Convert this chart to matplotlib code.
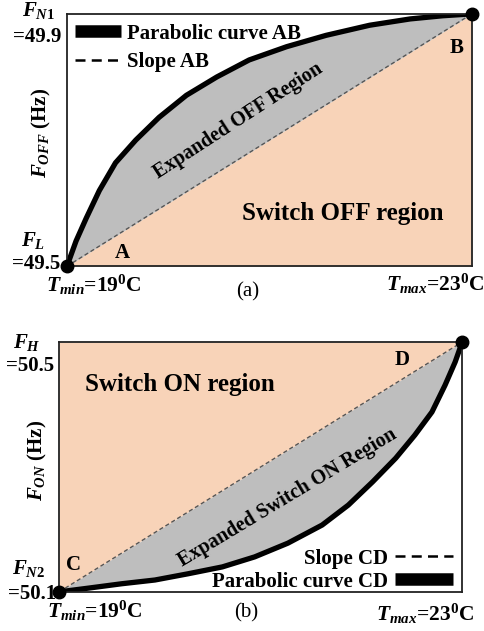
import matplotlib
matplotlib.use("Agg")
import matplotlib.pyplot as plt
from matplotlib.lines import Line2D
import numpy as np

plt.rcParams["font.family"] = "Liberation Serif"
plt.rcParams["font.weight"] = "bold"
plt.rcParams["mathtext.fontset"] = "custom"
plt.rcParams["mathtext.rm"] = "Liberation Serif:bold"
plt.rcParams["mathtext.it"] = "Liberation Serif:bold:italic"
plt.rcParams["mathtext.bf"] = "Liberation Serif:bold"

PEACH = "#F8D3B8"
GRAY = "#BEBEBE"

# (a) parabolic curve AB
T_AB = [19.0, 19.09, 19.19, 19.32, 19.48, 19.68, 19.91, 20.18, 20.48, 20.8,
        21.17, 21.56, 21.99, 22.39, 22.71, 23.0]
F_AB = [49.5, 49.54, 49.576, 49.62, 49.664, 49.70, 49.736, 49.771, 49.80, 49.827,
        49.848, 49.866, 49.882, 49.892, 49.897, 49.9]

# (b) parabolic curve CD
T_CD = [19.0, 19.29, 19.62, 19.95, 20.28, 20.62, 20.94, 21.27, 21.61, 21.87,
        22.11, 22.34, 22.53, 22.70, 22.83, 22.93, 23.0]
F_CD = [50.1, 50.106, 50.113, 50.119, 50.129, 50.14, 50.156, 50.178, 50.207, 50.239,
        50.276, 50.314, 50.351, 50.388, 50.431, 50.468, 50.5]

T_MIN, T_MAX = 19.0, 23.0
F_L, F_N1 = 49.5, 49.9
F_N2, F_H = 50.1, 50.5

FS = 15

fig = plt.figure(figsize=(4.85, 6.31), dpi=100)
ax1 = fig.add_axes([0.138, 0.578, 0.835, 0.400])
ax2 = fig.add_axes([0.122, 0.062, 0.831, 0.396])

for ax in (ax1, ax2):
    ax.set_xticks([])
    ax.set_yticks([])
    for s in ax.spines.values():
        s.set_linewidth(1.3)
        s.set_color("#222222")
        s.set_zorder(6)

# ---- (a) ----
t = np.array(T_AB)
slope_ab = np.interp(t, [T_MIN, T_MAX], [F_L, F_N1])
ax1.fill_between(t, F_L, slope_ab, color=PEACH, lw=0)
ax1.fill_between(t, slope_ab, F_AB, color=GRAY, lw=0)
ax1.plot([T_MIN, T_MAX], [F_L, F_N1], ls=(0, (3, 2)), color="#555555", lw=1.0)
ax1.plot(T_AB, F_AB, color="black", lw=3.8, solid_capstyle="round",
         solid_joinstyle="round", zorder=5)
ax1.plot([T_MIN, T_MAX], [F_L, F_N1], "o", color="black", ms=9, clip_on=False, zorder=7)
ax1.set_xlim(T_MIN, T_MAX)
ax1.set_ylim(F_L, F_N1)

h1 = [Line2D([], [], color="black", lw=9, solid_capstyle="butt"),
      Line2D([], [], color="black", lw=1.8, ls=(0, (4, 2.5)))]
ax1.legend(h1, ["Parabolic curve AB", "Slope AB"], loc="upper left", frameon=False,
           fontsize=FS, handlelength=2.2, handletextpad=0.3, labelspacing=0.4,
           bbox_to_anchor=(0.01, 0.978), borderaxespad=0.0, borderpad=0.2)

ax1.text(0.681, 0.21, "Switch OFF region", transform=ax1.transAxes, fontsize=18,
         ha="center", va="center")
ax1.text(0.422, 0.575, "Expanded OFF Region", transform=ax1.transAxes, fontsize=14.5,
         ha="center", va="center", rotation=33)
ax1.text(0.136, 0.052, "A", transform=ax1.transAxes, fontsize=FS, ha="center", va="center")
ax1.text(0.963, 0.865, "B", transform=ax1.transAxes, fontsize=FS, ha="center", va="center")

ax1.text(-0.069, 1.015, r"$F_{N1}$", transform=ax1.transAxes, fontsize=FS, ha="center", va="center")
ax1.text(-0.074, 0.91, "=49.9", transform=ax1.transAxes, fontsize=FS, ha="center", va="center")
ax1.text(-0.084, 0.104, r"$F_{L}$", transform=ax1.transAxes, fontsize=FS, ha="center", va="center")
ax1.text(-0.075, 0.008, "=49.5", transform=ax1.transAxes, fontsize=FS, ha="center", va="center")
ax1.text(-0.062, 0.53, r"$F_{OFF}$ (Hz)", transform=ax1.transAxes, fontsize=15,
         ha="center", va="center", rotation=90)
ax1.text(0.067, -0.072, r"$T_{min}$=19$^{0}$C", transform=ax1.transAxes, fontsize=15.5,
         ha="center", va="center")
ax1.text(0.446, -0.1, "(a)", transform=ax1.transAxes, fontsize=FS, fontweight="normal",
         ha="center", va="center")
ax1.text(1.03, -0.068, r"$T_{max}$=23$^{0}$C", transform=ax1.transAxes, fontsize=15.5,
         ha="right", va="center")

# ---- (b) ----
t = np.array(T_CD)
slope_cd = np.interp(t, [T_MIN, T_MAX], [F_N2, F_H])
ax2.fill_between(t, slope_cd, F_H, color=PEACH, lw=0)
ax2.fill_between(t, F_CD, slope_cd, color=GRAY, lw=0)
ax2.plot([T_MIN, T_MAX], [F_N2, F_H], ls=(0, (3, 2)), color="#555555", lw=1.0)
ax2.plot(T_CD, F_CD, color="black", lw=3.8, solid_capstyle="round",
         solid_joinstyle="round", zorder=5)
ax2.plot([T_MIN, T_MAX], [F_N2, F_H], "o", color="black", ms=9, clip_on=False, zorder=7)
ax2.set_xlim(T_MIN, T_MAX)
ax2.set_ylim(F_N2, F_H)

h2 = [Line2D([], [], color="black", lw=1.8, ls=(0, (4, 2.5))),
      Line2D([], [], color="black", lw=9, solid_capstyle="butt")]
ax2.legend(h2, ["Slope CD", "Parabolic curve CD"], loc="lower right", frameon=False,
           fontsize=FS, handlelength=2.8, handletextpad=0.3, labelspacing=0.15,
           bbox_to_anchor=(0.985, -0.012), borderaxespad=0.0, borderpad=0.15,
           markerfirst=False)

ax2.text(0.30, 0.83, "Switch ON region", transform=ax2.transAxes, fontsize=18,
         ha="center", va="center")
ax2.text(0.566, 0.376, "Expanded Switch ON Region", transform=ax2.transAxes, fontsize=14.5,
         ha="center", va="center", rotation=31)
ax2.text(0.035, 0.108, "C", transform=ax2.transAxes, fontsize=FS, ha="center", va="center")
ax2.text(0.85, 0.928, "D", transform=ax2.transAxes, fontsize=FS, ha="center", va="center")

ax2.text(-0.08, 1.0, r"$F_{H}$", transform=ax2.transAxes, fontsize=FS, ha="center", va="center")
ax2.text(-0.072, 0.905, "=50.5", transform=ax2.transAxes, fontsize=FS, ha="center", va="center")
ax2.text(-0.075, 0.093, r"$F_{N2}$", transform=ax2.transAxes, fontsize=FS, ha="center", va="center")
ax2.text(-0.068, -0.008, "=50.1", transform=ax2.transAxes, fontsize=FS, ha="center", va="center")
ax2.text(-0.055, 0.528, r"$F_{ON}$ (Hz)", transform=ax2.transAxes, fontsize=15,
         ha="center", va="center", rotation=90)
ax2.text(0.088, -0.077, r"$T_{min}$=19$^{0}$C", transform=ax2.transAxes, fontsize=15.5,
         ha="center", va="center")
ax2.text(0.465, -0.085, "(b)", transform=ax2.transAxes, fontsize=FS, fontweight="normal",
         ha="center", va="center")
ax2.text(1.03, -0.09, r"$T_{max}$=23$^{0}$C", transform=ax2.transAxes, fontsize=15.5,
         ha="right", va="center")

fig.savefig("out.png", dpi=100)
